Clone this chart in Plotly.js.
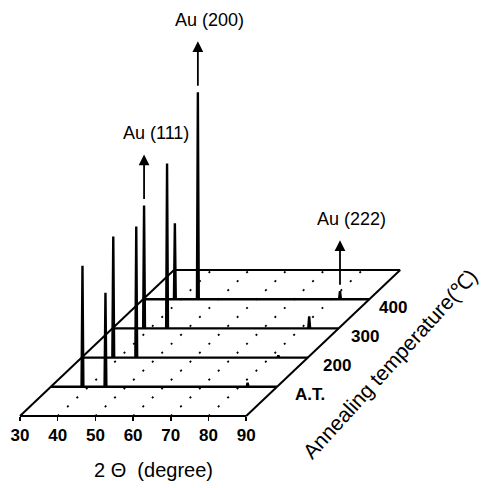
<!DOCTYPE html>
<html>
<head>
<meta charset="utf-8">
<script src="https://cdn.plot.ly/plotly-3.0.1.min.js"></script>
<style>html,body{margin:0;padding:0;background:#fff;}#chart{width:488px;height:488px;}</style>
</head>
<body>
<div id="chart"></div>
<script>
// ---- data ----
const twoTheta = [38.4, 44.5, 82.2];                 // peak positions (degree)
const peakNames = ['Au (111)', 'Au (200)', 'Au (222)'];
const rowLabels = ['A.T.', '200', '300', '400'];     // annealing temperature rows
const intensityAT  = [121, 94, 4];
const intensity200 = [121, 131, 2];
const intensity300 = [123, 165, 12];
const intensity400 = [76, 207, 8];
const xTickVals = [30, 40, 50, 60, 70, 80, 90];
const xTickText = ['30', '40', '50', '60', '70', '80', '90'];
const gridVals = [40, 50, 60, 70, 80];
const arrowPeaks = [ {peak: 0, row: 2}, {peak: 1, row: 3}, {peak: 2, row: 3} ];

// ---- projection (oblique waterfall) ----
const rows = [intensityAT, intensity200, intensity300, intensity400];
const T0 = 30, T1 = 90;
const SX = 8.17;   // x shift per row, degree units
const SY = 29.2;   // y shift per row, intensity units
const NROW = 5;    // box depth in row steps
const PW = 0.24;   // half width of a peak

const FONT = 'Arial, "Liberation Sans", sans-serif';
const traces = [];

// dotted depth grid lines
const gx = [], gy = [];
gridVals.forEach(v => { gx.push(v, v + NROW * SX, null); gy.push(0, NROW * SY, null); });
traces.push({x: gx, y: gy, mode: 'lines', line: {color: '#000', width: 1.8, dash: '2px,11px'}, hoverinfo: 'skip'});

// box outline
traces.push({
  x: [T0, T1, null, T0 + NROW * SX, T1 + NROW * SX, null, T0, T0 + NROW * SX, null, T1, T1 + NROW * SX],
  y: [0, 0, null, NROW * SY, NROW * SY, null, 0, NROW * SY, null, 0, NROW * SY],
  mode: 'lines', line: {color: '#000', width: 2}, hoverinfo: 'skip'
});

// spectra
rows.forEach((vals, i) => {
  const k = i + 1;
  const xs = [T0], ys = [0];
  twoTheta.forEach((t, j) => { xs.push(t - PW, t, t + PW); ys.push(0, vals[j], 0); });
  xs.push(T1); ys.push(0);
  traces.push({
    x: xs.map(v => v + k * SX), y: ys.map(v => v + k * SY),
    mode: 'lines', line: {color: '#000', width: 2.4}, hoverinfo: 'skip'
  });
});

// x tick labels
traces.push({x: xTickVals, y: xTickVals.map(() => -21), mode: 'text', text: xTickText.map(t => '<b>' + t + '</b>'),
  textfont: {family: FONT, size: 17, color: '#000'}, hoverinfo: 'skip'});

const annotations = [];
const GAP = 5, LEN = 46;
arrowPeaks.forEach(a => {
  const k = a.row + 1;
  const xp = twoTheta[a.peak] + k * SX;
  const top = rows[a.row][a.peak] + k * SY;
  annotations.push({x: xp, y: top + GAP + LEN, ax: xp, ay: top + GAP, axref: 'x', ayref: 'y',
    xref: 'x', yref: 'y', text: '', showarrow: true, arrowhead: 2, arrowsize: 1.2, arrowwidth: 1.8,
    arrowcolor: '#000', standoff: 0, startstandoff: 0});
  annotations.push({x: xp, y: top + GAP + LEN, xref: 'x', yref: 'y', text: peakNames[a.peak],
    xanchor: 'center', yanchor: 'middle',
    showarrow: false, xshift: 12, yshift: 21, font: {family: FONT, size: 18, color: '#000'}});
});

rowLabels.forEach((lab, i) => {
  const k = i + 1;
  annotations.push({x: T1 + k * SX, y: k * SY, xref: 'x', yref: 'y', text: '<b>' + lab + '</b>', showarrow: false,
    xanchor: 'left', yanchor: 'middle', xshift: 8 + (4 - k) * 2.8, yshift: -8, font: {family: FONT, size: 17, color: '#000'}});
});

annotations.push({x: 153 / 488, y: 1 - 470 / 488, xref: 'paper', yref: 'paper', text: '2 Θ  (degree)',
  xanchor: 'center', yanchor: 'middle',
  showarrow: false, font: {family: FONT, size: 20, color: '#000'}});
annotations.push({x: 389 / 488, y: 1 - 364 / 488, xref: 'paper', yref: 'paper', text: 'Annealing temperature(℃)',
  xanchor: 'center', yanchor: 'middle',
  showarrow: false, textangle: -47.7, font: {family: FONT, size: 21, color: '#000'}});

const layout = {
  width: 488, height: 488, margin: {l: 0, r: 0, t: 0, b: 0},
  paper_bgcolor: '#fff', plot_bgcolor: '#fff', showlegend: false,
  xaxis: {range: [24.695, 154.14], anchor: 'free', position: 72 / 488, showgrid: false, zeroline: false,
    showline: false, tickvals: xTickVals, ticks: 'outside', ticklen: 4, tickwidth: 1.5, tickcolor: '#000',
    showticklabels: false, fixedrange: true},
  yaxis: {range: [-72, 416], visible: false, fixedrange: true},
  annotations: annotations
};

Plotly.newPlot('chart', traces, layout, {staticPlot: true, displayModeBar: false});
</script>
</body>
</html>
